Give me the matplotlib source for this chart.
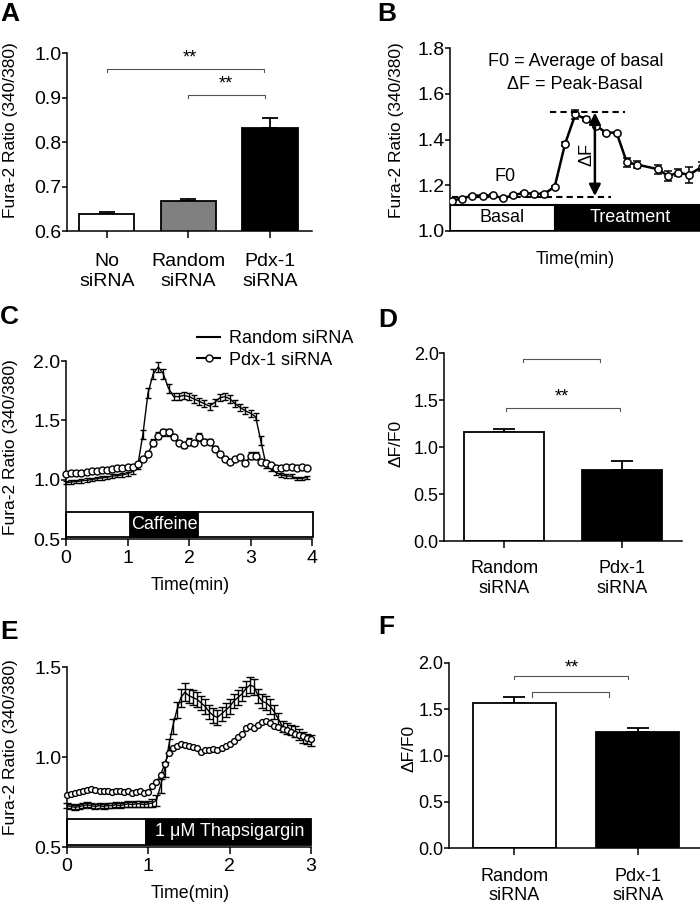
import numpy as np
import matplotlib
matplotlib.use("Agg")
import matplotlib.pyplot as plt
from matplotlib.patches import Rectangle
from matplotlib.lines import Line2D

plt.rcParams['font.family'] = ['Liberation Sans', 'DejaVu Sans']
plt.rcParams['axes.linewidth'] = 1.1

W, H = 700, 906

##########################################
# data
##########################################
# panel A : basal Fura-2 ratio
a_labels = ['No\nsiRNA', 'Random\nsiRNA', 'Pdx-1\nsiRNA']
a_means  = [0.638, 0.667, 0.832]
a_sems   = [0.005, 0.005, 0.021]
a_colors = ['white', '#808080', 'black']

# panel B : example trace (arbitrary time index)
b_t    = [0, 1, 2, 3, 4, 5, 6, 7, 8, 9, 10, 11, 12, 13, 14, 15, 16, 17, 18,
          20, 21, 22, 23, 24.3]
b_vals = [1.132, 1.141, 1.154, 1.154, 1.155, 1.142, 1.157, 1.165, 1.162, 1.162,
          1.193, 1.380, 1.510, 1.490, 1.460, 1.430, 1.430, 1.300, 1.290,
          1.270, 1.240, 1.255, 1.245, 1.280]
b_err  = [0.004, 0.004, 0.004, 0.004, 0.004, 0.004, 0.004, 0.004, 0.004, 0.004,
          0.005, 0.008, 0.020, 0.008, 0.005, 0.005, 0.005, 0.020, 0.015,
          0.020, 0.020, 0.015, 0.035, 0.020]

# panel C : caffeine traces (5 s frames)
c_t = np.arange(48) * 5 / 60.0
c_rand = [0.975, 0.980, 0.985, 0.990, 0.995, 1.000, 1.010, 1.015, 1.020, 1.030,
          1.035, 1.040, 1.050, 1.070, 1.120, 1.380, 1.730, 1.890, 1.950, 1.890,
          1.770, 1.700, 1.700, 1.710, 1.700, 1.680, 1.660, 1.640, 1.620, 1.650,
          1.690, 1.700, 1.680, 1.640, 1.610, 1.580, 1.560, 1.530, 1.330, 1.130,
          1.090, 1.060, 1.040, 1.030, 1.030, 1.010, 1.010, 1.020]
c_rand_err = [0.015, 0.015, 0.015, 0.015, 0.015, 0.015, 0.015, 0.015, 0.015, 0.015,
              0.015, 0.015, 0.015, 0.020, 0.030, 0.040, 0.040, 0.040, 0.040, 0.040,
              0.040, 0.030, 0.030, 0.030, 0.030, 0.030, 0.030, 0.030, 0.030, 0.030,
              0.030, 0.030, 0.030, 0.030, 0.030, 0.030, 0.030, 0.030, 0.040, 0.030,
              0.020, 0.020, 0.020, 0.020, 0.020, 0.015, 0.015, 0.015]
c_pdx = [1.050, 1.055, 1.060, 1.060, 1.065, 1.070, 1.075, 1.080, 1.085, 1.090,
         1.095, 1.100, 1.105, 1.110, 1.130, 1.170, 1.220, 1.310, 1.370, 1.400,
         1.400, 1.360, 1.310, 1.290, 1.320, 1.310, 1.360, 1.320, 1.320, 1.260,
         1.220, 1.170, 1.150, 1.170, 1.190, 1.140, 1.200, 1.200, 1.150, 1.140,
         1.120, 1.100, 1.100, 1.110, 1.110, 1.100, 1.110, 1.100]
c_pdx_err = [0.010, 0.010, 0.010, 0.010, 0.010, 0.010, 0.010, 0.010, 0.010, 0.010,
             0.010, 0.010, 0.010, 0.010, 0.010, 0.015, 0.020, 0.030, 0.030, 0.030,
             0.030, 0.020, 0.020, 0.020, 0.030, 0.020, 0.030, 0.020, 0.020, 0.020,
             0.015, 0.015, 0.015, 0.015, 0.020, 0.015, 0.030, 0.030, 0.015, 0.015,
             0.010, 0.010, 0.010, 0.010, 0.010, 0.010, 0.010, 0.010]

# panel D : caffeine dF/F0
d_labels = ['Random\nsiRNA', 'Pdx-1\nsiRNA']
d_means  = [1.156, 0.752]
d_sems   = [0.040, 0.100]
d_colors = ['white', 'black']

# panel E : thapsigargin traces (3 s frames)
e_t = np.arange(61) * 3 / 60.0
e_rand = [0.730, 0.725, 0.720, 0.725, 0.730, 0.735, 0.730, 0.725, 0.730, 0.725,
          0.730, 0.730, 0.735, 0.730, 0.735, 0.740, 0.735, 0.740, 0.740, 0.735,
          0.740, 0.745, 0.760, 0.840, 0.930, 1.060, 1.170, 1.260, 1.330, 1.360,
          1.340, 1.330, 1.320, 1.300, 1.280, 1.250, 1.230, 1.220, 1.240, 1.260,
          1.280, 1.310, 1.330, 1.350, 1.380, 1.400, 1.390, 1.340, 1.310, 1.300,
          1.280, 1.250, 1.210, 1.170, 1.160, 1.150, 1.140, 1.125, 1.110, 1.100,
          1.090]
e_rand_err = [0.015, 0.015, 0.015, 0.015, 0.015, 0.015, 0.015, 0.015, 0.015, 0.015,
              0.015, 0.015, 0.015, 0.015, 0.015, 0.015, 0.015, 0.015, 0.015, 0.015,
              0.015, 0.020, 0.030, 0.040, 0.040, 0.040, 0.040, 0.045, 0.050, 0.050,
              0.040, 0.040, 0.040, 0.040, 0.040, 0.040, 0.040, 0.040, 0.040, 0.040,
              0.040, 0.040, 0.040, 0.040, 0.040, 0.045, 0.045, 0.040, 0.040, 0.040,
              0.040, 0.040, 0.035, 0.030, 0.030, 0.030, 0.030, 0.030, 0.030, 0.030,
              0.030]
e_pdx = [0.790, 0.795, 0.800, 0.805, 0.810, 0.815, 0.820, 0.815, 0.810, 0.810,
         0.810, 0.805, 0.810, 0.810, 0.805, 0.810, 0.800, 0.805, 0.810, 0.800,
         0.805, 0.840, 0.860, 0.900, 0.960, 1.020, 1.050, 1.060, 1.070, 1.065,
         1.060, 1.055, 1.050, 1.030, 1.040, 1.040, 1.045, 1.040, 1.050, 1.060,
         1.075, 1.090, 1.110, 1.130, 1.160, 1.170, 1.160, 1.180, 1.195, 1.200,
         1.190, 1.175, 1.165, 1.155, 1.150, 1.140, 1.130, 1.125, 1.115, 1.105,
         1.100]

# panel F : thapsigargin dF/F0
f_labels = ['Random\nsiRNA', 'Pdx-1\nsiRNA']
f_means  = [1.569, 1.250]
f_sems   = [0.065, 0.046]
f_colors = ['white', 'black']

##########################################
# helpers
##########################################
def px_axes(l, t, r, b):
    return fig.add_axes([l / W, 1 - b / H, (r - l) / W, (b - t) / H])

def clean(ax, size=14):
    ax.spines['top'].set_visible(False)
    ax.spines['right'].set_visible(False)
    ax.tick_params(axis='y', direction='out', length=3.5, width=1.1, pad=0.5, labelsize=size)
    ax.tick_params(axis='x', direction='out', length=5, width=1.1, pad=3, labelsize=size)

def ylab(ax, text, x, y):
    ax.set_ylabel(text, fontsize=12.5)
    ax.yaxis.set_label_coords(x / W, 1 - y / H, transform=fig.transFigure)
    ax.yaxis.label.set_va('center')

def xlab(ax, text, x, y):
    ax.set_xlabel(text, fontsize=12.8)
    ax.xaxis.set_label_coords(x / W, 1 - y / H, transform=fig.transFigure)
    ax.xaxis.label.set_va('center')

def bracket(ax, x0, x1, y, drop):
    ax.plot([x0, x0, x1, x1], [y - drop, y, y, y - drop], color='#555555', lw=0.8,
            clip_on=False)

def stars(ax, x, y):
    ax.text(x, y, '**', ha='center', va='center', fontsize=13, clip_on=False)

def bars(ax, labels, means, sems, colors, width, capsize):
    xs = np.arange(len(means))
    ax.bar(xs, means, width=width, color=colors, edgecolor='black', linewidth=1.3, zorder=2)
    ax.errorbar(xs, means, yerr=[np.zeros(len(sems)), sems], fmt='none', ecolor='black',
                elinewidth=1.3, capsize=capsize, capthick=1.3, zorder=1)
    ax.set_xticks(xs)
    ax.set_xticklabels(labels, fontsize=12)

def letter(text, x, y):
    fig.text(x / W, 1 - y / H, text, fontsize=19, fontweight='bold', va='top', ha='left')

fig = plt.figure(figsize=(7, 9.06), dpi=100)

##########################################
# A
##########################################
ax = px_axes(66.7, 53, 311.7, 231)
bars(ax, a_labels, a_means, a_sems, a_colors, 0.676, 5.5)
clean(ax)
ax.tick_params(axis='x', pad=11)
ax.set_ylim(0.6, 1.0)
ax.set_xlim(-0.49, 2.51)
ax.set_yticks([0.6, 0.7, 0.8, 0.9, 1.0])
ylab(ax, 'Fura-2 Ratio (340/380)', 11, 130)
bracket(ax, 0.0, 1.93, 0.965, 0.008)
bracket(ax, 0.99, 1.94, 0.906, 0.008)
stars(ax, 1.02, 0.988)
stars(ax, 1.46, 0.930)

##########################################
# B
##########################################
ax = px_axes(450, 48.3, 700, 230.7)
clean(ax)
ax.set_xlim(-0.16, 24.1)
ax.set_ylim(1.0, 1.8)
ax.set_yticks([1.0, 1.2, 1.4, 1.6, 1.8])
ax.set_xticks([])
ax.add_patch(Rectangle((-0.16, 1.0), 10.16, 0.113, fc='white', ec='black', lw=1.5, zorder=1))
ax.add_patch(Rectangle((10.0, 1.0), 14.1, 0.113, fc='black', ec='black', lw=1.5, zorder=1))
ax.text(4.9, 1.057, 'Basal', ha='center', va='center', fontsize=13)
ax.text(17.3, 1.057, 'Treatment', ha='center', va='center', fontsize=13, color='white')
ax.errorbar(b_t, b_vals, yerr=b_err, fmt='-o', color='black', lw=1.8, ms=5.2,
            mfc='white', mec='black', mew=1.1, capsize=3, elinewidth=1.1, zorder=3)
ax.plot([9.5, 16.8], [1.52, 1.52], color='black', lw=1.5, ls=(0, (3, 2)), zorder=4)
ax.plot([0.0, 15.5], [1.149, 1.149], color='black', lw=1.5, ls=(0, (3, 2)), zorder=2)
ax.annotate('', xy=(13.9, 1.152), xytext=(13.9, 1.518),
            arrowprops=dict(arrowstyle='<|-|>', color='black', lw=1.8,
                            mutation_scale=17, shrinkA=0, shrinkB=0), zorder=5)
ax.text(13.1, 1.335, 'ΔF', rotation=90, ha='center', va='center', fontsize=13)
ax.text(5.2, 1.237, 'F0', ha='center', va='center', fontsize=13)
ax.text(12.0, 1.742, 'F0 = Average of basal', ha='center', va='center', fontsize=13)
ax.text(12.0, 1.643, 'ΔF = Peak-Basal', ha='center', va='center', fontsize=13)
ylab(ax, 'Fura-2 Ratio (340/380)', 397, 130)
xlab(ax, 'Time(min)', 575, 259)

##########################################
# C
##########################################
ax = px_axes(66, 361, 312, 539)
clean(ax)
ax.set_xlim(0, 4)
ax.set_ylim(0.5, 2.0)
ax.set_xticks([0, 1, 2, 3, 4])
ax.set_yticks([0.5, 1.0, 1.5, 2.0])
ax.add_patch(Rectangle((0, 0.515), 4.02, 0.215, fc='white', ec='black', lw=1.3, clip_on=False))
ax.add_patch(Rectangle((1.04, 0.515), 1.11, 0.215, fc='black', ec='black', lw=1.3))
ax.text(1.6, 0.622, 'Caffeine', color='white', ha='center', va='center', fontsize=13)
ax.errorbar(c_t, c_rand, yerr=c_rand_err, fmt='-', color='black', lw=1.0,
            capsize=2.5, capthick=1.0, elinewidth=1.0, clip_on=False, zorder=3)
ax.errorbar(c_t, c_pdx, yerr=c_pdx_err, fmt='-o', color='black', lw=1.0, ms=5,
            mfc='white', mec='black', mew=1.0, capsize=2.5, capthick=1.0,
            elinewidth=1.0, clip_on=False, zorder=4)
handles = [Line2D([], [], color='black', lw=1.5),
           Line2D([], [], color='black', lw=1.5, marker='o', ms=5, mfc='white')]
ax.legend(handles, ['Random siRNA', 'Pdx-1 siRNA'], loc='upper left',
          bbox_to_anchor=(197 / W, 1 - 330 / H), bbox_transform=fig.transFigure,
          frameon=False, fontsize=13, handlelength=1.3, handletextpad=0.45,
          labelspacing=0.25, borderpad=0, borderaxespad=0)
ylab(ax, 'Fura-2 Ratio (340/380)', 11, 447)
xlab(ax, 'Time(min)', 190, 585)

##########################################
# D
##########################################
ax = px_axes(444.3, 353, 681.7, 541)
bars(ax, d_labels, d_means, d_sems, d_colors, 0.676, 8)
clean(ax, 13)
ax.tick_params(axis='x', pad=9)
ax.set_ylim(0, 2.0)
ax.set_xlim(-0.507, 1.505)
ax.set_yticks([0.0, 0.5, 1.0, 1.5, 2.0])
ylab(ax, 'ΔF/F0', 396, 443)
bracket(ax, 0.16, 0.81, 1.936, 0.036)
bracket(ax, 0.02, 0.98, 1.420, 0.036)
stars(ax, 0.485, 1.53)

##########################################
# E
##########################################
ax = px_axes(67, 667, 311, 847)
clean(ax)
ax.set_xlim(0, 3)
ax.set_ylim(0.5, 1.5)
ax.set_xticks([0, 1, 2, 3])
ax.set_yticks([0.5, 1.0, 1.5])
ax.add_patch(Rectangle((0, 0.513), 0.97, 0.144, fc='white', ec='black', lw=1.3, clip_on=False))
ax.add_patch(Rectangle((0.97, 0.513), 2.03, 0.144, fc='black', ec='black', lw=1.3, clip_on=False))
ax.text(2.0, 0.585, '1 μM Thapsigargin', color='white', ha='center', va='center', fontsize=13)
ax.errorbar(e_t, e_rand, yerr=e_rand_err, fmt='-', color='black', lw=1.0,
            capsize=2.8, capthick=1.0, elinewidth=1.0, clip_on=False, zorder=3)
ax.plot(e_t, e_pdx, '-o', color='black', lw=1.0, ms=4.2, mfc='white', mec='black',
        mew=1.0, clip_on=False, zorder=4)
ylab(ax, 'Fura-2 Ratio (340/380)', 11, 747)
xlab(ax, 'Time(min)', 190, 894)

##########################################
# F
##########################################
ax = px_axes(449, 662.7, 700, 848.3)
bars(ax, f_labels, f_means, f_sems, f_colors, 0.67, 8)
clean(ax, 13)
ax.tick_params(axis='x', pad=9)
ax.set_ylim(0, 2.0)
ax.set_xlim(-0.53, 1.505)
ax.set_yticks([0.0, 0.5, 1.0, 1.5, 2.0])
ylab(ax, 'ΔF/F0', 409, 748)
bracket(ax, 0.0, 0.925, 1.857, 0.032)
bracket(ax, 0.14, 0.77, 1.680, 0.046)
stars(ax, 0.465, 1.94)

letter('A', 0, 2)
letter('B', 377, 2)
letter('C', 0, 305)
letter('D', 378, 308)
letter('E', 0, 620)
letter('F', 378, 615)

fig.savefig('out.png', dpi=100)
